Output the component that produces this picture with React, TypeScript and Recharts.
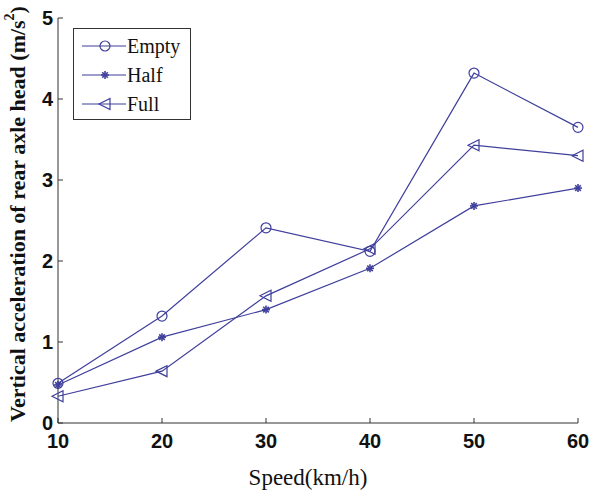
import { LineChart, Line, XAxis, YAxis, Legend } from "recharts"

const speeds = [10, 20, 30, 40, 50, 60]
const empty = [0.49, 1.32, 2.41, 2.12, 4.32, 3.65]
const half = [0.47, 1.06, 1.4, 1.91, 2.68, 2.9]
const full = [0.33, 0.64, 1.57, 2.15, 3.43, 3.3]
const yTicks = [0, 1, 2, 3, 4, 5]

const data = speeds.map((s, i) => ({
  speed: s,
  empty: empty[i],
  half: half[i],
  full: full[i],
}))

const color = "#3f3f9c"
const axisColor = "#333"
const tickFont = { fontFamily: "Liberation Sans, Arial", fontSize: 20, fontWeight: "bold", fill: "#111" }

function Circle(props: any) {
  const { cx, cy } = props
  if (cx == null || cy == null) return null
  return <circle cx={cx} cy={cy} r={5} fill="none" stroke={color} strokeWidth={1.2} />
}

function Star(props: any) {
  const { cx, cy } = props
  if (cx == null || cy == null) return null
  const r = 4
  const d = 2.8
  return (
    <g stroke={color} strokeWidth={1.6}>
      <line x1={cx - r} y1={cy} x2={cx + r} y2={cy} />
      <line x1={cx} y1={cy - r} x2={cx} y2={cy + r} />
      <line x1={cx - d} y1={cy - d} x2={cx + d} y2={cy + d} />
      <line x1={cx - d} y1={cy + d} x2={cx + d} y2={cy - d} />
    </g>
  )
}

function Triangle(props: any) {
  const { cx, cy } = props
  if (cx == null || cy == null) return null
  return (
    <path
      d={`M${cx - 6},${cy} L${cx + 5},${cy - 5.5} L${cx + 5},${cy + 5.5} Z`}
      fill="none"
      stroke={color}
      strokeWidth={1.2}
    />
  )
}

const legendItems = [
  { name: "Empty", Marker: Circle },
  { name: "Half", Marker: Star },
  { name: "Full", Marker: Triangle },
]

function LegendBox() {
  return (
    <div
      style={{
        position: "absolute",
        left: 73,
        top: 28,
        width: 116,
        height: 90,
        border: `1px solid ${axisColor}`,
        background: "#fff",
      }}
    >
      {legendItems.map(({ name, Marker }, i) => (
        <div
          key={name}
          style={{ position: "absolute", left: 0, top: 4 + i * 29, height: 26, display: "flex", alignItems: "center" }}
        >
          <svg width={52} height={26}>
            <line x1={8} y1={13} x2={52} y2={13} stroke={color} strokeWidth={1.2} />
            <Marker cx={31} cy={13} />
          </svg>
          <span style={{ fontFamily: "Liberation Serif, Times New Roman", fontSize: 20, color: "#111", marginLeft: 1 }}>
            {name}
          </span>
        </div>
      ))}
    </div>
  )
}

function YLabel() {
  const cx = 17
  const cy = 214
  return (
    <text
      x={cx}
      y={cy}
      transform={`rotate(-90, ${cx}, ${cy})`}
      textAnchor="middle"
      dominantBaseline="central"
      style={{ fontFamily: "Liberation Serif, Times New Roman", fontSize: 22, fontWeight: "bold", fill: "#111" }}
    >
      Vertical acceleration of rear axle head (m/s
      <tspan dy={-8} fontSize={14}>2</tspan>
      <tspan dy={8}>)</tspan>
    </text>
  )
}

function XLabel() {
  return (
    <text
      x={308}
      y={485}
      textAnchor="middle"
      style={{ fontFamily: "Liberation Serif, Times New Roman", fontSize: 23, fill: "#111" }}
    >
      Speed(km/h)
    </text>
  )
}

export default function App() {
  return (
    <div style={{ position: "absolute", left: 0, top: 0, width: 593, height: 491, background: "#fff" }}>
      <LineChart width={593} height={491} data={data} margin={{ top: 18, right: 15, left: 0, bottom: 0 }}>
        <XAxis
          dataKey="speed"
          type="number"
          domain={[10, 60]}
          ticks={speeds}
          height={68}
          tickSize={-5}
          tickMargin={16}
          stroke={axisColor}
          tick={tickFont}
          label={<XLabel />}
        />
        <XAxis
          xAxisId="top"
          orientation="top"
          dataKey="speed"
          type="number"
          domain={[10, 60]}
          ticks={speeds}
          height={0}
          tickSize={-5}
          tick={false}
          stroke={axisColor}
        />
        <YAxis
          type="number"
          domain={[0, 5]}
          ticks={yTicks}
          width={58}
          tickSize={-5}
          tickMargin={10}
          stroke={axisColor}
          tick={tickFont}
          label={<YLabel />}
        />
        <YAxis
          yAxisId="right"
          orientation="right"
          type="number"
          domain={[0, 5]}
          ticks={yTicks}
          width={0}
          tickSize={-5}
          tick={false}
          stroke={axisColor}
        />
        <Legend content={() => <LegendBox />} wrapperStyle={{ left: 0, top: 0, width: 0, height: 0 }} />
        <Line dataKey="empty" stroke={color} strokeWidth={1.2} dot={<Circle />} isAnimationActive={false} />
        <Line dataKey="half" stroke={color} strokeWidth={1.2} dot={<Star />} isAnimationActive={false} />
        <Line dataKey="full" stroke={color} strokeWidth={1.2} dot={<Triangle />} isAnimationActive={false} />
      </LineChart>
    </div>
  )
}
